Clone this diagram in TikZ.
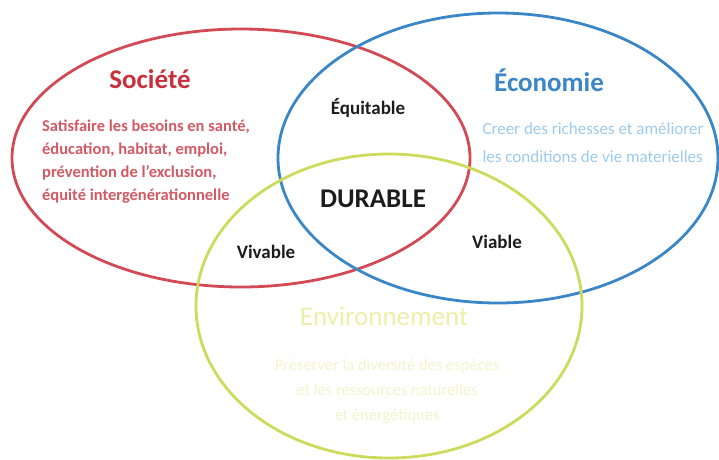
\documentclass[tikz,border=0pt]{standalone}
\usepackage{fontspec}
\setmainfont{Carlito}
\usetikzlibrary{positioning,shapes.geometric}
\definecolor{socred}{HTML}{C9303C}
\definecolor{socline}{HTML}{D24A55}
\definecolor{soctext}{HTML}{D25A64}
\definecolor{ecoblue}{HTML}{3A86C6}
\definecolor{ecotext}{HTML}{9CCBEE}
\definecolor{envgreen}{HTML}{CCDB5C}
\definecolor{envtext}{HTML}{E9F0A8}
\definecolor{envbodytext}{HTML}{F1F5CC}
\definecolor{ink}{HTML}{1C1C1C}

\begin{document}
\begin{tikzpicture}[x=1pt, y=-1pt,
    every node/.style={inner sep=0pt, outer sep=0pt},
    circ/.style={ellipse, draw, line width=2.8pt},
    titre/.style={font=\fontsize{27}{30}\selectfont\bfseries},
    zone/.style={font=\fontsize{19}{22}\selectfont\bfseries, text=ink}]
    \useasboundingbox (0,0) rectangle (719,459);

    % les trois cercles
    \node[circ, draw=socline, minimum width=458, minimum height=258] (soc) at (241,158) {};
    \node[circ, draw=ecoblue, minimum width=440, minimum height=290] (eco) at (498,158) {};
    \node[circ, draw=envgreen, minimum width=386, minimum height=304] (env) at (389,306) {};

    % Societe
    \node[titre, text=socred] (soctitle) at (150,79) {Société};
    \node[align=left, text=soctext, font=\fontsize{16.5}{23}\selectfont\bfseries] (socbody) at (146,162)
        {Satisfaire les besoins en santé,\\ éducation, habitat, emploi,\\
         prévention de l'exclusion,\\ équité intergénérationnelle};

    % Economie
    \node[titre, text=ecoblue] (ecotitle) at (549,80) {Économie};
    \node[align=left, text=ecotext, font=\fontsize{17}{28}\selectfont] (ecobody) at (593,143)
        {Creer des richesses et améliorer\\ les conditions de vie materielles};

    % Environnement
    \node[text=envtext, font=\fontsize{27}{30}\selectfont] (envtitle) at (384,316) {Environnement};
    \node[align=center, text=envbodytext, font=\fontsize{16.5}{25}\selectfont] (envbody) at (387,391)
        {Préserver la diversité des espèces\\ et les ressources naturelles\\ et énergétiques};

    % intersections
    \node[zone] (equi) at (368,108) {Équitable};
    \node[zone, font=\fontsize{27}{30}\selectfont\bfseries] (dur) at (373,199) {DURABLE};
    \node[zone] (viv) at (266,252) {Vivable};
    \node[zone] (via) at (497,242) {Viable};
\end{tikzpicture}
\end{document}
